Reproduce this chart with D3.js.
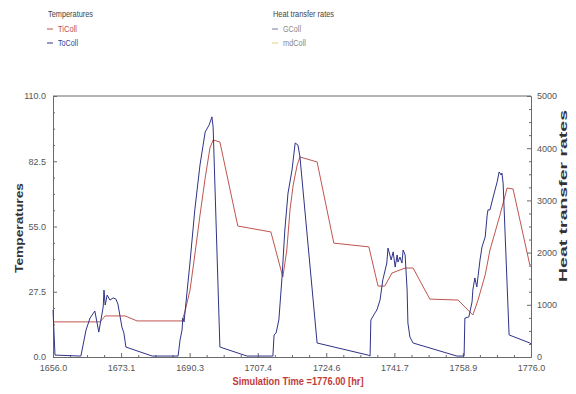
<!DOCTYPE html>
<html>
<head>
<meta charset="utf-8">
<script src="https://cdn.jsdelivr.net/npm/d3@7"></script>
<style>
  html, body { margin: 0; padding: 0; background: #fff; }
  svg { display: block; font-family: "Liberation Sans", Arial, sans-serif; }
</style>
</head>
<body>
<svg id="chart" width="576" height="394"></svg>
<script>
// Simulation hours and collector temperatures
const tiTime = [1656.0, 1667.8, 1669.1, 1674.1, 1677.1, 1688.4, 1689.1, 1690.4, 1691.6, 1692.9, 1694.2, 1695.4, 1696.2, 1697.9, 1702.4, 1710.7, 1713.7, 1714.7, 1715.5, 1716.3, 1717.3, 1718.0, 1722.3, 1726.5, 1735.3, 1737.6, 1739.3, 1741.1, 1744.4, 1746.4, 1750.6, 1757.7, 1761.4, 1762.7, 1764.5, 1765.7, 1767.0, 1768.2, 1770.0, 1771.5, 1775.7, 1776.0];
const tiColl = [14.8, 14.8, 17.3, 17.3, 15.2, 15.2, 19.0, 28.2, 43.0, 59.8, 75.4, 88.1, 91.5, 90.6, 55.2, 52.7, 33.7, 45.1, 62.0, 72.5, 80.9, 84.3, 82.2, 48.0, 46.4, 29.9, 29.9, 35.4, 37.5, 37.5, 24.4, 24.0, 17.7, 24.0, 34.6, 45.1, 52.7, 59.8, 71.2, 70.8, 38.8, 38.8];

const toTime = [1656.0, 1656.5, 1662.8, 1663.0, 1664.3, 1665.3, 1666.5, 1667.5, 1668.6, 1668.8, 1669.1, 1669.6, 1670.3, 1671.1, 1671.8, 1672.3, 1673.3, 1673.8, 1674.3, 1680.9, 1687.4, 1687.6, 1687.9, 1688.4, 1688.6, 1688.9, 1690.4, 1691.6, 1692.9, 1694.2, 1695.2, 1695.9, 1696.2, 1697.9, 1704.7, 1711.2, 1711.5, 1712.0, 1712.7, 1713.5, 1714.2, 1715.0, 1716.0, 1716.8, 1717.5, 1718.0, 1722.3, 1735.1, 1735.6, 1735.8, 1736.8, 1737.3, 1738.1, 1738.8, 1739.8, 1740.1, 1740.9, 1741.4, 1741.9, 1742.4, 1742.6, 1743.1, 1743.6, 1743.9, 1744.4, 1744.9, 1745.1, 1745.6, 1746.4, 1757.4, 1759.2, 1759.4, 1760.4, 1761.2, 1761.4, 1761.9, 1762.4, 1763.2, 1763.7, 1764.5, 1765.0, 1765.2, 1765.7, 1766.5, 1767.5, 1768.0, 1768.5, 1768.7, 1769.0, 1770.5, 1775.7, 1776.0];
const toColl = [19.8, 0.8, 0.4, 0.4, 11.4, 16.4, 19.4, 10.5, 21.1, 28.2, 21.9, 26.1, 24.0, 24.9, 24.4, 22.3, 12.6, 10.1, 4.2, 0.4, 0.4, 3.0, 7.2, 11.4, 16.4, 14.8, 40.0, 62.0, 80.9, 94.8, 97.8, 101.2, 96.9, 4.2, 0.4, 0.4, 9.3, 10.1, 15.6, 33.7, 53.5, 69.1, 78.8, 90.2, 89.3, 84.3, 5.9, 0.8, 0.4, 15.6, 18.5, 19.8, 24.0, 32.5, 39.6, 45.9, 40.9, 44.3, 37.9, 43.0, 40.0, 42.1, 39.6, 45.1, 43.0, 28.2, 14.3, 8.4, 5.9, 0.4, 0.4, 16.4, 16.9, 23.2, 28.2, 33.3, 29.5, 40.9, 46.4, 50.6, 59.8, 62.0, 62.0, 67.4, 73.8, 78.0, 76.7, 77.5, 73.3, 9.3, 5.9, 5.5];

// Axis ticks
const xTicks = [1656.0, 1673.1, 1690.3, 1707.4, 1724.6, 1741.7, 1758.9, 1776.0];
const yLeftTicks = [0.0, 27.5, 55.0, 82.5, 110.0];
const yRightTicks = [0, 1000, 2000, 3000, 4000, 5000];

const svg = d3.select("#chart");
const margin = { left: 53, right: 45, top: 96, bottom: 37 };
const W = 576, H = 394;
const x0 = margin.left, x1 = W - margin.right;
const y0 = H - margin.bottom, y1 = margin.top;

const x = d3.scaleLinear().domain([1656, 1776]).range([x0, x1]);
const yL = d3.scaleLinear().domain([0, 110]).range([y0, y1]);
const yR = d3.scaleLinear().domain([0, 5000]).range([y0, y1]);

const axisCol = "#6a6a6a";
const textCol = "#555";

// Minor ticks: 4 subdivisions per major interval
function minors(ticks) {
  const out = [];
  for (let i = 0; i < ticks.length - 1; i++) {
    const step = (ticks[i + 1] - ticks[i]) / 4;
    for (let k = 1; k < 4; k++) out.push(ticks[i] + k * step);
  }
  return out;
}

// Bottom axis
svg.append("g").attr("transform", `translate(0,${y0})`)
  .call(d3.axisBottom(x).tickValues(xTicks).tickFormat(d3.format(".1f")).tickSize(-4).tickPadding(8));
svg.append("g").attr("transform", `translate(0,${y0})`)
  .call(d3.axisBottom(x).tickValues(minors(xTicks)).tickFormat("").tickSize(-2))
  .call(g => g.select(".domain").remove());

// Left axis
svg.append("g").attr("transform", `translate(${x0},0)`)
  .call(d3.axisLeft(yL).tickValues(yLeftTicks).tickFormat(d3.format(".1f")).tickSize(-4).tickPadding(7));
svg.append("g").attr("transform", `translate(${x0},0)`)
  .call(d3.axisLeft(yL).tickValues(minors(yLeftTicks)).tickFormat("").tickSize(-2))
  .call(g => g.select(".domain").remove());

// Right axis
svg.append("g").attr("transform", `translate(${x1},0)`)
  .call(d3.axisRight(yR).tickValues(yRightTicks).tickFormat(d3.format("d")).tickSize(-4).tickPadding(6));
svg.append("g").attr("transform", `translate(${x1},0)`)
  .call(d3.axisRight(yR).tickValues(minors(yRightTicks)).tickFormat("").tickSize(-2))
  .call(g => g.select(".domain").remove());

svg.selectAll(".tick line").attr("stroke", axisCol);
svg.selectAll(".domain").attr("stroke", axisCol);
svg.selectAll(".tick text").attr("fill", textCol).attr("font-size", 9)
  .attr("font-family", "Liberation Sans, Arial, sans-serif");

// Top frame line
svg.append("line").attr("x1", x0).attr("x2", x1).attr("y1", y1).attr("y2", y1)
  .attr("stroke", axisCol).attr("stroke-width", 1);

// Series lines
const line = (xs, ys) => d3.line().x((d, i) => x(xs[i])).y(d => yL(d))(ys);

svg.append("path").attr("d", line(tiTime, tiColl))
  .attr("fill", "none").attr("stroke", "#bf5550").attr("stroke-width", 1)
  .attr("stroke-linejoin", "round");
svg.append("path").attr("d", line(toTime, toColl))
  .attr("fill", "none").attr("stroke", "#2e3386").attr("stroke-width", 1)
  .attr("stroke-linejoin", "round");

// Axis titles
svg.append("text").attr("transform", `translate(23,228) rotate(-90)`)
  .attr("text-anchor", "middle").attr("font-size", 11).attr("font-weight", "bold")
  .attr("textLength", 90).attr("lengthAdjust", "spacingAndGlyphs")
  .attr("fill", "#333").text("Temperatures");
svg.append("text").attr("transform", `translate(567,196) rotate(-90)`)
  .attr("text-anchor", "middle").attr("font-size", 11).attr("font-weight", "bold")
  .attr("textLength", 172).attr("lengthAdjust", "spacingAndGlyphs")
  .attr("fill", "#333").text("Heat transfer rates");
svg.append("text").attr("x", 298).attr("y", 385)
  .attr("text-anchor", "middle").attr("font-size", 11).attr("font-weight", "bold")
  .attr("textLength", 131).attr("lengthAdjust", "spacingAndGlyphs")
  .attr("fill", "#c23b3b").text("Simulation Time =1776.00 [hr]");

// Legends
const legends = [
  { x: 47, title: "Temperatures", width: 45, items: [
    { name: "TiColl", width: 19, dash: "#c0504d", color: "#c0504d" },
    { name: "ToColl", width: 20, dash: "#2e3386", color: "#3a3f8f" } ] },
  { x: 272, title: "Heat transfer rates", width: 61, items: [
    { name: "GColl", width: 18, dash: "#7a7aa0", color: "#888" },
    { name: "mdColl", width: 23, dash: "#e3d27a", color: "#888" } ] }
];
legends.forEach(lg => {
  const g = svg.append("g").attr("transform", `translate(${lg.x},0)`);
  g.append("text").attr("x", 1).attr("y", 17).attr("font-size", 9.5)
    .attr("textLength", lg.width).attr("lengthAdjust", "spacingAndGlyphs")
    .attr("fill", "#444").text(lg.title);
  lg.items.forEach((it, i) => {
    const yy = 29 + i * 14;
    g.append("line").attr("x1", 0).attr("x2", 6).attr("y1", yy).attr("y2", yy)
      .attr("stroke", it.dash).attr("stroke-width", 1);
    g.append("text").attr("x", 11).attr("y", yy + 3).attr("font-size", 9.5)
      .attr("textLength", it.width).attr("lengthAdjust", "spacingAndGlyphs")
      .attr("fill", it.color).text(it.name);
  });
});
</script>
</body>
</html>
